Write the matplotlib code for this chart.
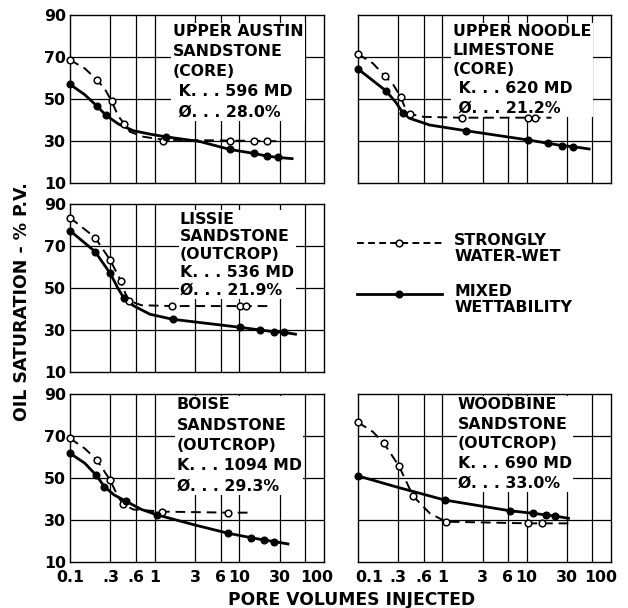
import numpy as np
import matplotlib
matplotlib.use("Agg")
import matplotlib.pyplot as plt
import matplotlib.transforms as mtransforms
from matplotlib.lines import Line2D
from matplotlib.legend_handler import HandlerLine2D

plt.rcParams['font.family'] = ['DejaVu Sans']
plt.rcParams['font.weight'] = 'bold'

# %% data

x_ticks = [0.1, 0.3, 0.6, 1, 3, 6, 10, 30, 100]
x_ticklabels = ["0.1", ".3", ".6", "1", "3", "6", "10", "30", "100"]
x_grid = [0.3, 0.6, 1, 3, 6, 10, 30, 60]
y_ticks = [10, 30, 50, 70, 90]
y_grid = [30, 50, 70]

# upper austin
ua_ww_x = [0.1, 0.21, 0.31, 0.44, 1.27, 7.7, 14.8, 21.3]
ua_ww_y = [68.6, 59, 49, 38, 30.1, 30.1, 30, 29.9]
ua_ww_lx = [0.1, 0.15, 0.21, 0.26, 0.31, 0.37, 0.44, 0.51, 0.74, 1.27, 7.7, 28]
ua_ww_ly = [68.6, 64.5, 59, 54.5, 49, 42, 38, 34.4, 32, 30.6, 30.2, 29.9]
ua_mw_x = [0.1, 0.207, 0.267, 1.36, 7.7, 14.8, 21.3, 28.3]
ua_mw_y = [57, 46.7, 42.2, 32, 26, 24.1, 22.8, 22.2]
ua_mw_lx = [0.1, 0.15, 0.207, 0.267, 0.373, 0.56, 0.9, 1.36, 3.45, 7.7, 14.8, 21.3, 28.3, 42]
ua_mw_ly = [57, 52, 46.7, 42.2, 38.1, 34.9, 33.2, 32, 29.7, 26, 24.1, 22.8, 22.2, 21.6]

# upper noodle
un_ww_x = [0.1, 0.207, 0.32, 0.41, 1.69, 10.4, 12.7]
un_ww_y = [71.4, 61, 51.1, 42.9, 41.1, 41.1, 41.1]
un_ww_lx = [0.1, 0.15, 0.207, 0.26, 0.32, 0.36, 0.41, 0.6, 1.69, 10.4, 12.7, 19.7]
un_ww_ly = [71.4, 67, 61, 57, 51.1, 46, 42.9, 41.5, 41.1, 41.1, 41.1, 41.1]
un_mw_x = [0.1, 0.213, 0.34, 1.9, 10.4, 18, 26.4, 35.7]
un_mw_y = [64.3, 54, 43.5, 34.9, 30.5, 28.9, 27.8, 27.3]
un_mw_lx = [0.1, 0.213, 0.28, 0.34, 0.41, 0.71, 1.9, 10.4, 18, 26.4, 35.7, 55]
un_mw_ly = [64.3, 54, 48.5, 43.5, 40.8, 37.6, 34.9, 30.5, 28.9, 27.8, 27.3, 26.2]

# lissie
li_ww_x = [0.1, 0.198, 0.298, 0.398, 0.504, 1.6, 10.1, 12.1]
li_ww_y = [83.5, 74, 63.3, 53.5, 43.8, 41.4, 41.4, 41.4]
li_ww_lx = [0.1, 0.198, 0.298, 0.398, 0.45, 0.504, 0.7, 1.6, 10.1, 12.1, 23.3]
li_ww_ly = [83.5, 74, 63.3, 53.5, 47.5, 43.8, 41.8, 41.4, 41.4, 41.4, 41.4]
li_mw_x = [0.1, 0.198, 0.298, 0.435, 1.63, 10.1, 17.7, 25.5, 33.4]
li_mw_y = [77.3, 67.3, 57, 45.1, 35.1, 31.3, 30, 29.2, 28.9]
li_mw_lx = [0.1, 0.198, 0.298, 0.373, 0.435, 0.56, 0.88, 1.63, 10.1, 17.7, 25.5, 33.4, 46]
li_mw_ly = [77.3, 67.3, 57, 49.5, 45.1, 41.6, 37.5, 35.1, 31.3, 30, 29.2, 28.9, 28]

# boise
bo_ww_x = [0.1, 0.207, 0.298, 0.42, 1.23, 7.35]
bo_ww_y = [68.9, 58.6, 49, 37.6, 34, 33.5]
bo_ww_lx = [0.1, 0.15, 0.207, 0.298, 0.36, 0.42, 0.56, 1.23, 7.35, 14.1]
bo_ww_ly = [68.9, 64, 58.6, 49, 42, 37.6, 35, 34, 33.5, 33.5]
bo_mw_x = [0.1, 0.203, 0.255, 0.455, 1.08, 7.35, 13.7, 19.5, 26]
bo_mw_y = [61.8, 51.4, 45.9, 39, 32.4, 23.7, 21.6, 20.5, 19.7]
bo_mw_lx = [0.1, 0.15, 0.203, 0.255, 0.33, 0.455, 0.7, 1.08, 3, 7.35, 13.7, 19.5, 26, 37.5]
bo_mw_ly = [61.8, 57, 51.4, 45.9, 42, 39, 35, 32.4, 27.6, 23.7, 21.6, 20.5, 19.7, 18.6]

# woodbine
wo_ww_x = [0.1, 0.203, 0.306, 0.45, 1.1, 10.5, 15.4]
wo_ww_y = [76.5, 66.5, 55.7, 41.4, 29.2, 28.4, 28.4]
wo_ww_lx = [0.1, 0.15, 0.203, 0.306, 0.45, 0.71, 1.1, 10.5, 15.4, 31.3]
wo_ww_ly = [76.5, 72, 66.5, 55.7, 41.4, 33.2, 29.2, 28.4, 28.4, 28.4]
wo_mw_x = [0.1, 1.07, 6.3, 11.9, 16.9, 21.8]
wo_mw_y = [51, 39.5, 34.4, 33.2, 32.4, 31.9]
wo_mw_lx = [0.1, 0.3, 1.07, 6.3, 11.9, 16.9, 21.8, 31.3]
wo_mw_ly = [51, 45.5, 39.5, 34.4, 33.2, 32.4, 31.9, 30.8]

ua_text = "UPPER AUSTIN\nSANDSTONE\n(CORE)\n K. . . 596 MD\n Ø. . . 28.0%"
un_text = "UPPER NOODLE\nLIMESTONE\n(CORE)\n K. . . 620 MD\n Ø. . . 21.2%"
li_text = "LISSIE\nSANDSTONE\n(OUTCROP)\nK. . . 536 MD\nØ. . . 21.9%"
bo_text = "BOISE\nSANDSTONE\n(OUTCROP)\nK. . . 1094 MD\nØ. . . 29.3%"
wo_text = "WOODBINE\nSANDSTONE\n(OUTCROP)\nK. . . 690 MD\nØ. . . 33.0%"

# %% figure

W, H = 628, 608
fig = plt.figure(figsize=(W / 100, H / 100), dpi=100)

def px_axes(x0, y0, x1, y1):
    return fig.add_axes([x0 / W, 1 - y1 / H, (x1 - x0) / W, (y1 - y0) / H])

FS = 11.3
dashed = dict(color="black", lw=1.4, ls=(0, (5, 3)), zorder=3)
solid = dict(color="black", lw=2.0, ls="-", zorder=3)


def panel(ax, ww, mw, text, tx, ty, lsp, left=True, bottom=True):
    ax.set_xscale("log")
    ax.set_xlim(0.1, 100)
    ax.set_ylim(10, 90)

    ax.plot(ww[2], ww[3], **dashed)
    ax.plot(mw[2], mw[3], **solid)
    ax.plot(ww[0], ww[1], "o", ms=4.8, mfc="white", mec="black", mew=1.1,
            ls="none", zorder=4, clip_on=False)
    ax.plot(mw[0], mw[1], "o", ms=4.8, mfc="black", mec="black",
            ls="none", zorder=4, clip_on=False)

    ax.set_xticks(x_ticks)
    ax.set_yticks(y_ticks)
    ax.minorticks_off()
    ax.tick_params(which="both", length=0, labelsize=FS)
    ax.tick_params(axis="x", pad=6)
    ax.tick_params(axis="y", pad=3)
    if bottom:
        ax.set_xticklabels(x_ticklabels)
    else:
        ax.set_xticklabels([])
    if left:
        ax.set_yticklabels([str(v) for v in y_ticks])
    else:
        ax.set_yticklabels([])
    for s in ax.spines.values():
        s.set_linewidth(1.0)

    # grid drawn by hand after the ticks are fixed
    for gx in x_grid:
        ax.axvline(gx, color="black", lw=0.9, zorder=2)
    for gy in y_grid:
        ax.axhline(gy, color="black", lw=0.9, zorder=2)

    # white box hides the grid behind the label, curves stay on top
    ax.text(tx, ty, text, transform=ax.transAxes, fontsize=FS, fontweight="bold",
            va="top", ha="left", linespacing=lsp, zorder=2.5,
            bbox=dict(facecolor="white", edgecolor="none", pad=1))


ax1 = px_axes(70, 15, 324, 183)
ax2 = px_axes(358, 15, 611, 183)
ax3 = px_axes(70, 204, 324, 372)
ax5 = px_axes(70, 394, 324, 562)
ax6 = px_axes(358, 394, 611, 562)

panel(ax1, (ua_ww_x, ua_ww_y, ua_ww_lx, ua_ww_ly), (ua_mw_x, ua_mw_y, ua_mw_lx, ua_mw_ly),
      ua_text, 0.405, 0.945, 1.42, left=True, bottom=False)
panel(ax2, (un_ww_x, un_ww_y, un_ww_lx, un_ww_ly), (un_mw_x, un_mw_y, un_mw_lx, un_mw_ly),
      un_text, 0.375, 0.945, 1.34, left=False, bottom=False)
panel(ax3, (li_ww_x, li_ww_y, li_ww_lx, li_ww_ly), (li_mw_x, li_mw_y, li_mw_lx, li_mw_ly),
      li_text, 0.433, 0.955, 1.24, left=True, bottom=False)
panel(ax5, (bo_ww_x, bo_ww_y, bo_ww_lx, bo_ww_ly), (bo_mw_x, bo_mw_y, bo_mw_lx, bo_mw_ly),
      bo_text, 0.42, 0.98, 1.44, left=True, bottom=True)
panel(ax6, (wo_ww_x, wo_ww_y, wo_ww_lx, wo_ww_ly), (wo_mw_x, wo_mw_y, wo_mw_lx, wo_mw_ly),
      wo_text, 0.395, 0.98, 1.38, left=False, bottom=True)

# nudge the crowded labels at the panel joint
def nudge(lab, dx):
    lab.set_transform(lab.get_transform() + mtransforms.ScaledTranslation(dx / 100, 0, fig.dpi_scale_trans))

for lab in ax5.get_xticklabels():
    if lab.get_text() == "100":
        nudge(lab, -7)
for lab in ax6.get_xticklabels():
    if lab.get_text() == "0.1":
        nudge(lab, 11)
    if lab.get_text() == "100":
        nudge(lab, -10)


# legend: sample line sits level with the first line of its label
class UpHandler(HandlerLine2D):
    def create_artists(self, legend, orig_handle, xdescent, ydescent, width, height, fontsize, trans):
        return super().create_artists(legend, orig_handle, xdescent, ydescent - 9,
                                      width, height, fontsize, trans)


handles = [
    Line2D([], [], color="black", lw=1.4, ls=(0, (3.5, 2.2)), marker="o", ms=4.8,
           mfc="white", mec="black", mew=1.1),
    Line2D([], [], color="black", lw=2.0, ls="-", marker="o", ms=4.8,
           mfc="black", mec="black"),
]
fig.legend(handles, ["STRONGLY\nWATER-WET", "MIXED\nWETTABILITY"],
           loc="upper left", bbox_to_anchor=(357 / W, 1 - 233 / H),
           frameon=False, handlelength=5.4, handletextpad=0.8,
           labelspacing=1.3, borderpad=0, borderaxespad=0,
           numpoints=1, prop=dict(weight="bold", size=FS),
           handler_map={Line2D: UpHandler()})
for t in fig.legends[0].get_texts():
    t.set_linespacing(1.05)

fig.text(22 / W, 1 - 302 / H, "OIL SATURATION - % P.V.", rotation=90,
         ha="center", va="center", fontsize=12.5, fontweight="bold")
fig.text(352 / W, 1 - 600 / H, "PORE VOLUMES INJECTED",
         ha="center", va="center", fontsize=12.3, fontweight="bold")

fig.savefig("out.png", dpi=100)
